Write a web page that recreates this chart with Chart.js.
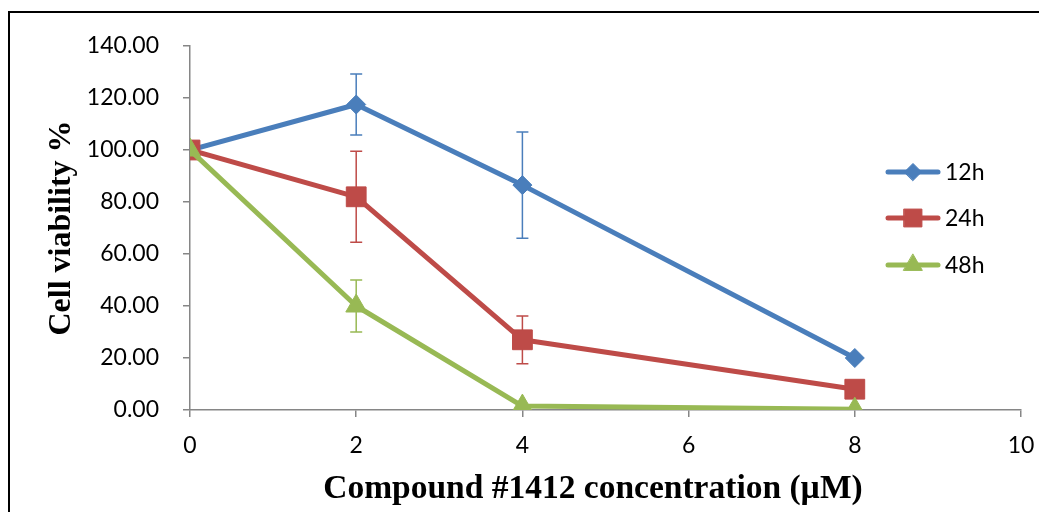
<!DOCTYPE html>
<html>
<head>
<meta charset="utf-8">
<script src="https://cdn.jsdelivr.net/npm/chart.js@4.4.1/dist/chart.umd.min.js"></script>
<style>
    html, body { margin: 0; padding: 0; background: #fff; overflow: hidden; }
    #frame { position: absolute; left: 8px; top: 11px; width: 1200px; height: 700px; border: 2px solid #000; }
    #wrap { position: absolute; left: 0; top: 0; width: 1039px; height: 512px; }
</style>
</head>
<body>
<div id="frame"></div>
<div id="wrap"><canvas id="viabilityChart" width="1039" height="512"></canvas></div>
<script>
// concentrations (µM)
const concentrations = [0, 2, 4, 8];

const labels = ['12h', '24h', '48h'];
const colors = ['#4A7EBB', '#BE4B48', '#98B954'];
const markers = ['rectRot', 'rect', 'triangle'];
const markerSizes = [9.5, 14, 12];

const viability12h = [100, 117.5, 86.5, 20];
const viability24h = [100, 82, 27, 8];
const viability48h = [100, 40, 1.5, 0.3];

const error12h = [0, 11.7, 20.4, 0];
const error24h = [0, 17.5, 9.2, 0];
const error48h = [0, 10, 0, 0];

const xTicks = [0, 2, 4, 6, 8, 10];
const yTicks = [0, 20, 40, 60, 80, 100, 120, 140];

const seriesValues = [viability12h, viability24h, viability48h];
const seriesErrors = [error12h, error24h, error48h];

const tickFont = { family: 'Lato', size: 23 };
const titleFont = { family: 'Liberation Serif', size: 33.5, weight: 'bold' };
const axisGray = '#868686';

// error bars drawn under the markers
const errorBarPlugin = {
    id: 'errorBars',
    beforeDatasetsDraw(chart) {
        const ctx = chart.ctx;
        const xs = chart.scales.x;
        const ys = chart.scales.y;
        ctx.save();
        chart.data.datasets.forEach((ds, i) => {
            const errs = seriesErrors[i];
            ctx.strokeStyle = colors[i];
            ctx.lineWidth = 1.5;
            ds.data.forEach((pt, j) => {
                const e = errs[j];
                if (!e) return;
                const x = xs.getPixelForValue(pt.x);
                const yTop = ys.getPixelForValue(pt.y + e);
                const yBot = ys.getPixelForValue(pt.y - e);
                ctx.beginPath();
                ctx.moveTo(x, yTop);
                ctx.lineTo(x, yBot);
                ctx.moveTo(x - 6, yTop);
                ctx.lineTo(x + 6, yTop);
                ctx.moveTo(x - 6, yBot);
                ctx.lineTo(x + 6, yBot);
                ctx.stroke();
            });
        });
        ctx.restore();
    }
};

// legend sits inside the plot area on the right
const insideLegendPlugin = {
    id: 'insideLegend',
    afterDraw(chart) {
        const ctx = chart.ctx;
        const rows = [172, 218, 265];
        ctx.save();
        labels.forEach((label, i) => {
            const y = rows[i];
            ctx.strokeStyle = colors[i];
            ctx.lineWidth = 5;
            ctx.lineCap = 'round';
            ctx.beginPath();
            ctx.moveTo(888, y);
            ctx.lineTo(938, y);
            ctx.stroke();
            ctx.fillStyle = colors[i];
            ctx.strokeStyle = colors[i];
            ctx.lineWidth = 1;
            Chart.helpers.drawPoint(ctx, {
                pointStyle: markers[i],
                radius: markerSizes[i] * 0.9,
                rotation: 0,
                borderWidth: 1
            }, 913, y);
            ctx.fillStyle = '#000';
            ctx.font = '23px Lato';
            ctx.textBaseline = 'middle';
            ctx.fillText(label, 945, y + 1);
        });
        ctx.restore();
    }
};

const datasets = labels.map((label, i) => ({
    label: label,
    data: concentrations.map((c, j) => ({ x: c, y: seriesValues[i][j] })),
    borderColor: colors[i],
    backgroundColor: colors[i],
    borderWidth: 5,
    borderJoinStyle: 'round',
    pointStyle: markers[i],
    pointRadius: markerSizes[i],
    pointBorderWidth: 1,
    pointBorderColor: colors[i],
    pointBackgroundColor: colors[i],
    tension: 0,
    order: 2 - i
}));

const ctx = document.getElementById('viabilityChart').getContext('2d');
new Chart(ctx, {
    type: 'line',
    data: { datasets: datasets },
    plugins: [errorBarPlugin, insideLegendPlugin],
    options: {
        responsive: false,
        animation: false,
        layout: { padding: { top: 46, right: 18, bottom: 3, left: 0 } },
        plugins: {
            legend: { display: false },
            tooltip: { enabled: false }
        },
        scales: {
            x: {
                type: 'linear',
                min: 0,
                max: 10,
                afterBuildTicks: (scale) => {
                    scale.ticks = xTicks.map(v => ({ value: v }));
                },
                afterFit: (scale) => {
                    scale.height = 99;
                    scale.paddingLeft = 0;
                    scale.paddingRight = 0;
                },
                grid: { drawOnChartArea: false, tickLength: 7, color: axisGray, lineWidth: 1.5 },
                border: { color: axisGray, width: 1.5 },
                ticks: { font: tickFont, color: '#000', padding: 15, maxRotation: 0 },
                title: {
                    display: true,
                    // trailing spaces nudge the centred title a bit to the left, as in the original
                    text: 'Compound #1412 concentration (µM)\u00a0\u00a0\u00a0',
                    font: titleFont,
                    color: '#000',
                    padding: { top: 0, bottom: 0 }
                }
            },
            y: {
                min: 0,
                max: 140,
                afterBuildTicks: (scale) => {
                    scale.ticks = yTicks.map(v => ({ value: v }));
                },
                afterFit: (scale) => {
                    scale.width = 190;
                    scale.paddingTop = 0;
                    scale.paddingBottom = 0;
                },
                grid: { drawOnChartArea: false, tickLength: 7, color: axisGray, lineWidth: 1.5 },
                border: { color: axisGray, width: 1.5 },
                ticks: {
                    font: tickFont,
                    color: '#000',
                    padding: 24,
                    callback: (v) => Number(v).toFixed(2)
                },
                title: {
                    display: true,
                    text: 'Cell viability %',
                    font: { family: 'Liberation Serif', size: 32, weight: 'bold' },
                    color: '#000',
                    padding: { top: 43, bottom: 0 }
                }
            }
        }
    }
});
</script>
</body>
</html>
